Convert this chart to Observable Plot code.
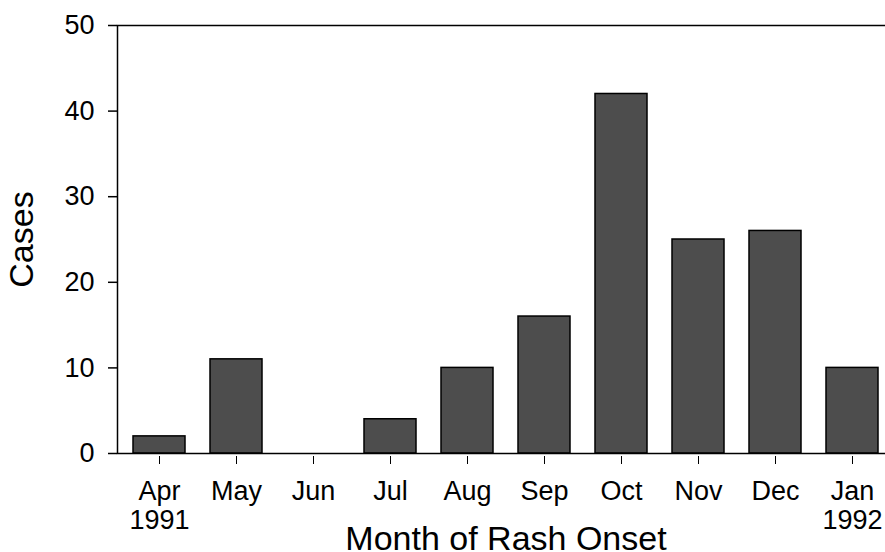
<!DOCTYPE html>
<html><head><meta charset="utf-8">
<script src="https://cdn.jsdelivr.net/npm/d3@7"></script>
<script src="https://cdn.jsdelivr.net/npm/@observablehq/plot@0.6"></script>
<style>html,body{margin:0;padding:0;background:#fff;overflow:hidden}</style>
</head><body><div id="chart"></div>
<script>
const months = ["Apr","May","Jun","Jul","Aug","Sep","Oct","Nov","Dec","Jan"];
const monthLabels = ["Apr\n1991","May","Jun","Jul","Aug","Sep","Oct","Nov","Dec","Jan\n1992"];
const cases = [2,11,0,4,10,16,42,25,26,10];
const yTicks = [0,10,20,30,40,50];
const xTitle = "Month of Rash Onset";
const yTitle = "Cases";

const data = months.map((m, i) => ({month: m, cases: cases[i]}));
const labelOf = new Map(months.map((m, i) => [m, monthLabels[i]]));

const chart = Plot.plot({
  width: 885, height: 552,
  marginLeft: 117, marginRight: -9, marginTop: 25, marginBottom: 99,
  style: {fontFamily: "'Liberation Sans', Arial, sans-serif", background: "#fff", color: "#000"},
  x: {domain: months, paddingInner: 0.33, paddingOuter: 0.165, align: 0.5},
  y: {domain: [0, 50]},
  marks: [
    Plot.barY(data, {x: "month", y: "cases", fill: "#4d4d4d", stroke: "#000", strokeWidth: 1.5}),
    Plot.frame({stroke: "#000", strokeWidth: 1.5}),
    Plot.axisY({ticks: yTicks, tickSize: 9, tickPadding: 14, fontSize: 27, label: null, strokeWidth: 1.5}),
    Plot.axisX({tickSize: 8, dy: 3, tickPadding: 14, fontSize: 27, lineHeight: 1.1, tickFormat: m => labelOf.get(m), label: null}),
    Plot.text([xTitle], {text: d => d, frameAnchor: "bottom", dy: 96, lineAnchor: "bottom", fontSize: 34}),
    Plot.text([yTitle], {text: d => d, frameAnchor: "left", textAnchor: "middle", lineAnchor: "middle", dx: -95, rotate: -90, fontSize: 34})
  ]
});
document.getElementById("chart").appendChild(chart);
</script>
</body></html>
